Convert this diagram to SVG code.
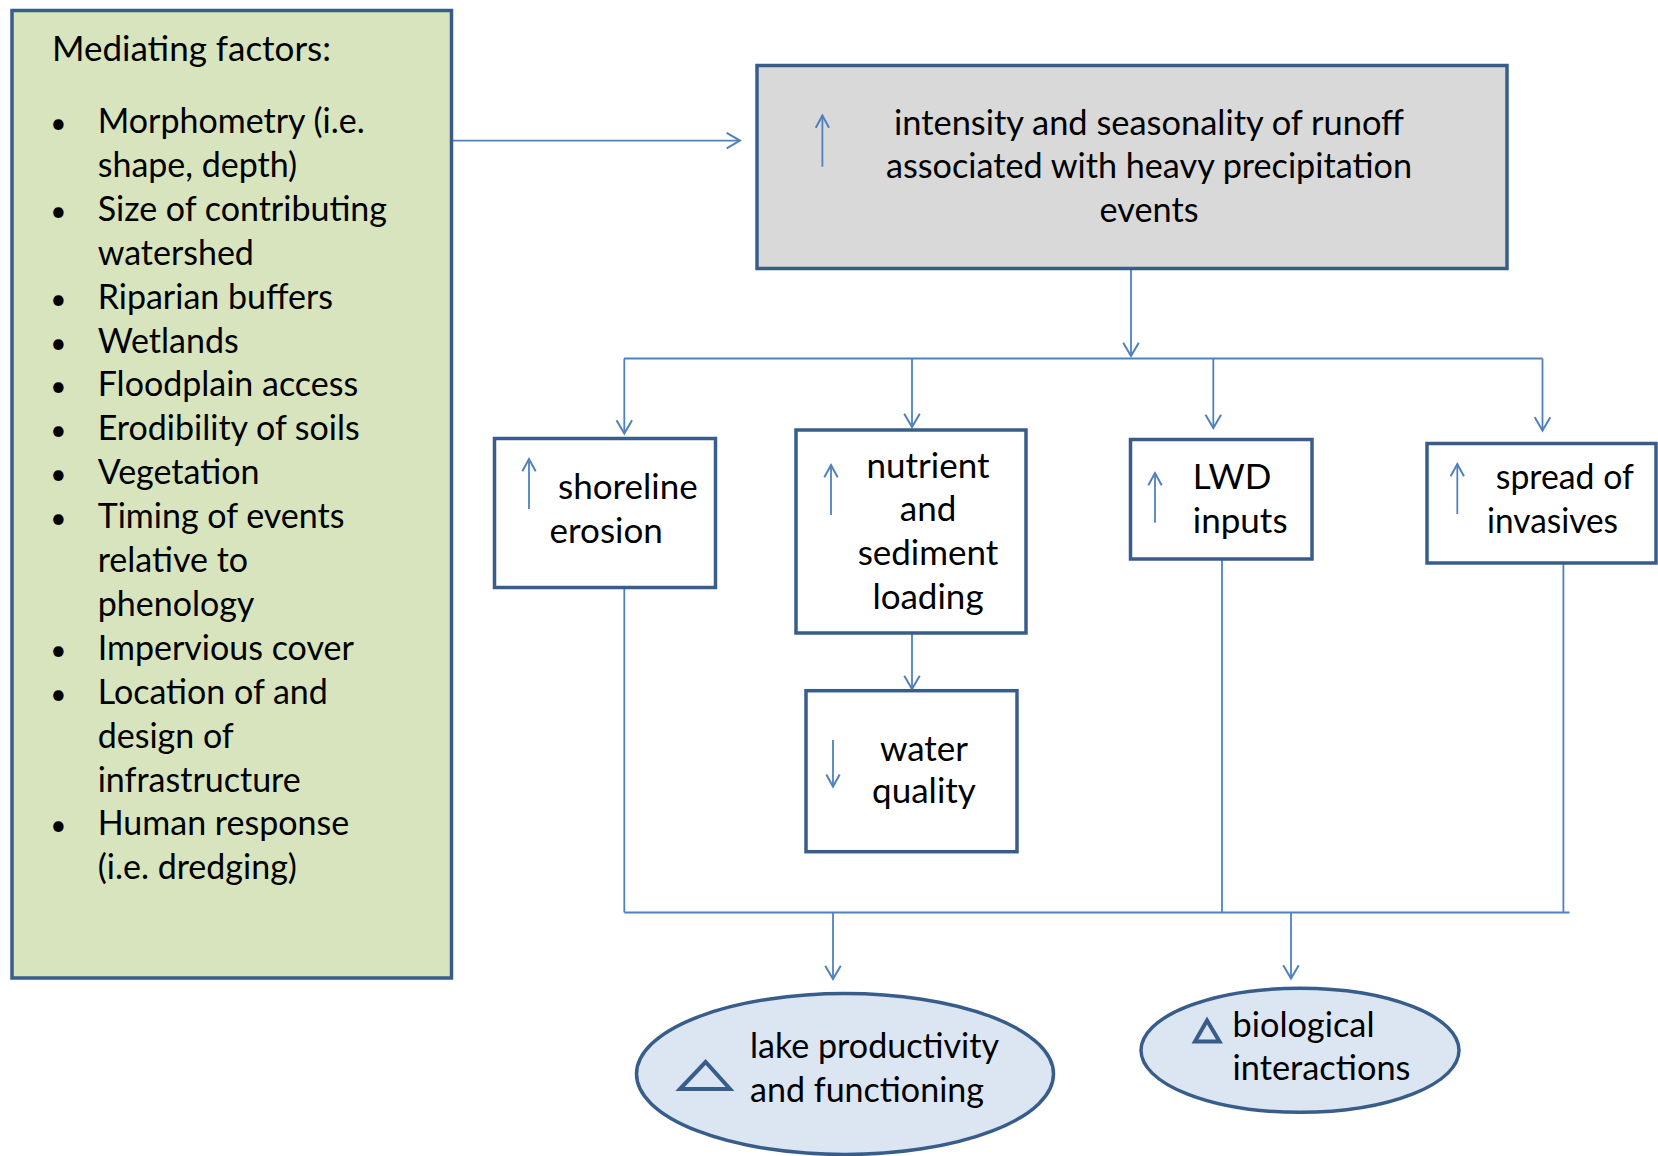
<svg xmlns="http://www.w3.org/2000/svg" width="1658" height="1156" viewBox="0 0 1658 1156">
  <defs>
    <style>
      .t { font-family: Lato, "Open Sans", "Liberation Sans", sans-serif; font-size: 35px; fill: #000; }
      .c { text-anchor: middle; }
      .list { font-size: 34px; }
      .bul { font-size: 28px; text-anchor: middle; }
      .box { fill: #fff; stroke: #385d8a; stroke-width: 3.5; }
      .wire { fill: none; stroke: #4f81bd; stroke-width: 1.8; }
      .ind { fill: none; stroke: #4f81bd; stroke-width: 1.8; }
      .tri { fill: none; stroke: #385d8a; stroke-width: 4; stroke-linejoin: miter; }
    </style>
    <marker id="vhead" markerUnits="userSpaceOnUse" markerWidth="20" markerHeight="20" viewBox="-14 -9 16 18" refX="0" refY="0" orient="auto">
      <path d="M-12,-7 L0,0 L-12,7" fill="none" stroke="#4f81bd" stroke-width="1.8"/>
    </marker>
    <marker id="vsmall" markerUnits="userSpaceOnUse" markerWidth="20" markerHeight="20" viewBox="-14 -9 16 18" refX="0" refY="0" orient="auto">
      <path d="M-11,-6 L0,0 L-11,6" fill="none" stroke="#4f81bd" stroke-width="1.8"/>
    </marker>
  </defs>

  <rect width="1658" height="1156" fill="#fff"/>

  <!-- connectors -->
  <g id="connectors">
    <path class="wire" d="M451,140.6 H740" marker-end="url(#vhead)"/>
    <path class="wire" d="M1131,268.6 V356" marker-end="url(#vhead)"/>
    <path class="wire" d="M624,358.5 H1542.5"/>
    <path class="wire" d="M624.3,358.5 V433.5" marker-end="url(#vhead)"/>
    <path class="wire" d="M912,358.5 V427" marker-end="url(#vhead)"/>
    <path class="wire" d="M1213.3,358.5 V428" marker-end="url(#vhead)"/>
    <path class="wire" d="M1542.5,358.5 V430.5" marker-end="url(#vhead)"/>
    <path class="wire" d="M912,633 V689" marker-end="url(#vhead)"/>
    <path class="wire" d="M624.3,587.7 V912.5"/>
    <path class="wire" d="M1222,559 V912.5"/>
    <path class="wire" d="M1563.4,563 V912.5"/>
    <path class="wire" d="M624.3,912.5 H1569.5"/>
    <path class="wire" d="M833,912.5 V979" marker-end="url(#vhead)"/>
    <path class="wire" d="M1291,912.5 V978.5" marker-end="url(#vhead)"/>
  </g>

  <!-- mediating factors panel -->
  <g id="mediating-factors">
    <rect x="12" y="10.5" width="439.5" height="967.5" fill="#d7e4bd" stroke="#385d8a" stroke-width="3.5"/>
    <text class="t" x="52" y="61" font-size="34">Mediating factors:</text>
    <g class="t list">
      <text class="bul" x="58.3" y="133">•</text><text x="97.7" y="133">Morphometry (i.e.</text>
      <text x="97.7" y="176.9">shape, depth)</text>
      <text class="bul" x="58.3" y="220.8">•</text><text x="97.7" y="220.8">Size of contributing</text>
      <text x="97.7" y="264.7">watershed</text>
      <text class="bul" x="58.3" y="308.6">•</text><text x="97.7" y="308.6">Riparian buffers</text>
      <text class="bul" x="58.3" y="352.5">•</text><text x="97.7" y="352.5">Wetlands</text>
      <text class="bul" x="58.3" y="396.4">•</text><text x="97.7" y="396.4">Floodplain access</text>
      <text class="bul" x="58.3" y="440.3">•</text><text x="97.7" y="440.3">Erodibility of soils</text>
      <text class="bul" x="58.3" y="484.2">•</text><text x="97.7" y="484.2">Vegetation</text>
      <text class="bul" x="58.3" y="528.1">•</text><text x="97.7" y="528.1">Timing of events</text>
      <text x="97.7" y="572">relative to</text>
      <text x="97.7" y="615.9">phenology</text>
      <text class="bul" x="58.3" y="659.8">•</text><text x="97.7" y="659.8">Impervious cover</text>
      <text class="bul" x="58.3" y="703.7">•</text><text x="97.7" y="703.7">Location of and</text>
      <text x="97.7" y="747.6">design of</text>
      <text x="97.7" y="791.5">infrastructure</text>
      <text class="bul" x="58.3" y="835.4">•</text><text x="97.7" y="835.4">Human response</text>
      <text x="97.7" y="879.3">(i.e. dredging)</text>
    </g>
  </g>

  <!-- runoff driver -->
  <g id="runoff">
    <rect x="757" y="65.5" width="750" height="203" fill="#d9d9d9" stroke="#385d8a" stroke-width="3.5"/>
    <path class="ind" d="M822.4,166.7 V115.5" marker-end="url(#vsmall)"/>
    <text class="t c" x="1149" y="135" font-size="34" textLength="510" lengthAdjust="spacingAndGlyphs">intensity and seasonality of runoff</text>
    <text class="t c" x="1149" y="178.3" font-size="34" textLength="526" lengthAdjust="spacingAndGlyphs">associated with heavy precipitation</text>
    <text class="t c" x="1149" y="221.7" font-size="34" textLength="99" lengthAdjust="spacingAndGlyphs">events</text>
  </g>

  <g id="shoreline">
    <rect class="box" x="494.5" y="438.5" width="221" height="149"/>
    <path class="ind" d="M529,509 V459" marker-end="url(#vsmall)"/>
    <text class="t" x="558" y="499">shoreline</text>
    <text class="t" x="549.6" y="542.7">erosion</text>
  </g>

  <g id="nutrient">
    <rect class="box" x="796" y="430" width="230" height="203"/>
    <path class="ind" d="M831,515 V465" marker-end="url(#vsmall)"/>
    <text class="t c" x="928" y="477.7">nutrient</text>
    <text class="t c" x="928" y="521.3">and</text>
    <text class="t c" x="928" y="565">sediment</text>
    <text class="t c" x="928" y="608.7">loading</text>
  </g>

  <g id="water-quality">
    <rect class="box" x="806" y="690.7" width="211" height="161"/>
    <path class="ind" d="M833,740 V786.7" marker-end="url(#vsmall)"/>
    <text class="t c" x="924" y="761">water</text>
    <text class="t c" x="924" y="802.7">quality</text>
  </g>

  <g id="lwd">
    <rect class="box" x="1130.5" y="439.5" width="181.5" height="119.5"/>
    <path class="ind" d="M1155,522.7 V473" marker-end="url(#vsmall)"/>
    <text class="t" x="1192.8" y="489.3">LWD</text>
    <text class="t" x="1192.8" y="532.7">inputs</text>
  </g>

  <g id="invasives">
    <rect class="box" x="1427" y="443.5" width="229" height="119.5"/>
    <path class="ind" d="M1457.3,514 V464" marker-end="url(#vsmall)"/>
    <text class="t" x="1495.8" y="489.3" textLength="138" lengthAdjust="spacingAndGlyphs">spread of</text>
    <text class="t" x="1487" y="532.7" textLength="131" lengthAdjust="spacingAndGlyphs">invasives</text>
  </g>

  <g id="lake-productivity">
    <ellipse cx="845" cy="1074" rx="208.5" ry="80.5" fill="#dce6f2" stroke="#385d8a" stroke-width="3.5"/>
    <path class="tri" d="M680,1089 L705.6,1062 L730,1089 Z"/>
    <text class="t" x="750" y="1057.7" font-size="34" textLength="249" lengthAdjust="spacingAndGlyphs">lake productivity</text>
    <text class="t" x="750" y="1101.7" font-size="34" textLength="234" lengthAdjust="spacingAndGlyphs">and functioning</text>
  </g>

  <g id="biological-interactions">
    <ellipse cx="1300" cy="1050.3" rx="159" ry="62" fill="#dce6f2" stroke="#385d8a" stroke-width="3.5"/>
    <path class="tri" d="M1195,1041.5 L1207,1020.5 L1219.5,1041.5 Z"/>
    <text class="t" x="1232.5" y="1037" font-size="34" textLength="142" lengthAdjust="spacingAndGlyphs">biological</text>
    <text class="t" x="1232.5" y="1080.3" font-size="34" textLength="178" lengthAdjust="spacingAndGlyphs">interactions</text>
  </g>
</svg>
